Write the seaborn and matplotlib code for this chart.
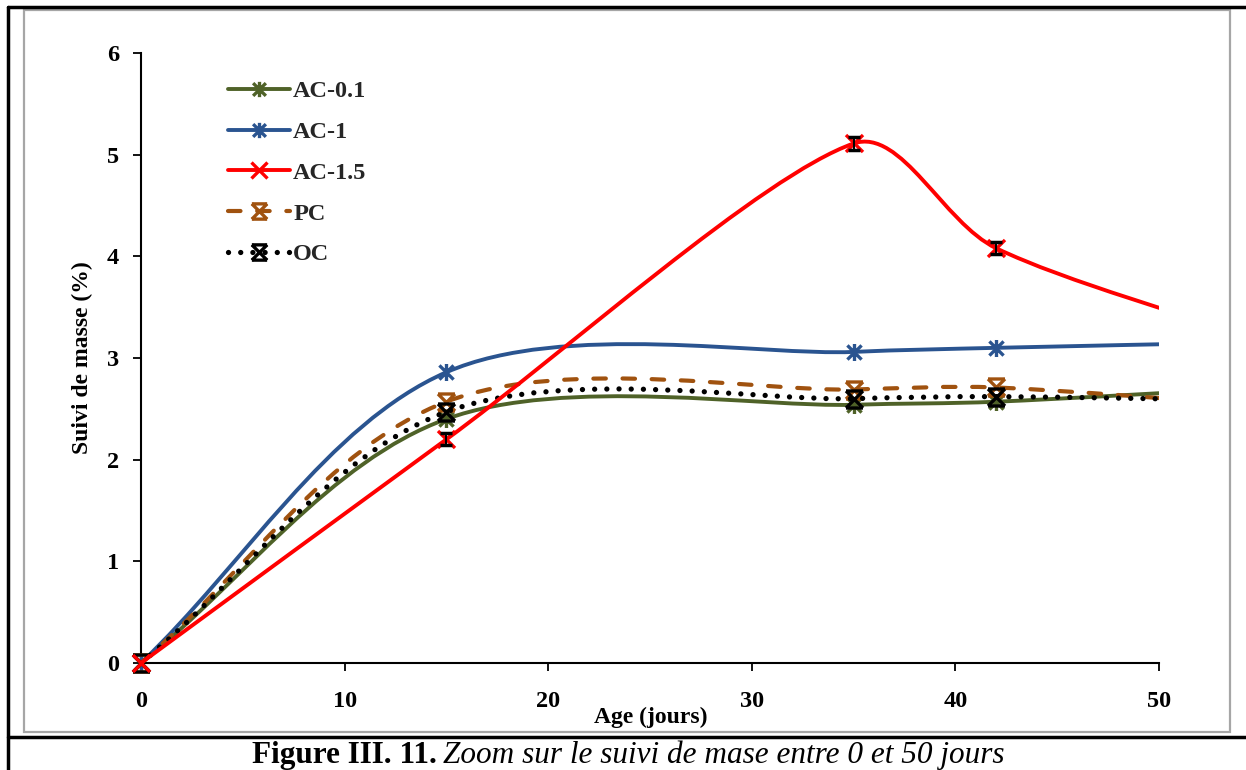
import numpy as np
import pandas as pd
import matplotlib
matplotlib.use("Agg")
import matplotlib.pyplot as plt
import seaborn as sns
from matplotlib.path import Path
from matplotlib.patches import PathPatch, Rectangle
from matplotlib.lines import Line2D

# data (last point lies beyond the zoomed window)
age = [0, 15, 35, 42, 56]
ac_01 = [0, 2.40, 2.54, 2.57, 2.72]
ac_1 = [0, 2.86, 3.06, 3.10, 3.16]
ac_15 = [0, 2.20, 5.11, 4.08, 3.10]
pc = [0, 2.57, 2.69, 2.71, 2.52]
oc = [0, 2.47, 2.60, 2.62, 2.58]
ac_15_err = [0, 0.06, 0.06, 0.06, 0.06]

names = ["AC-0.1", "AC-1", "AC-1.5", "PC", "OC"]
values = [ac_01, ac_1, ac_15, pc, oc]

# Excel-like markers: star (x plus vertical bar) and hourglass (x with caps)
star = Path([(-1, -1), (1, 1), (-1, 1), (1, -1), (0, -1.2), (0, 1.2)],
            [Path.MOVETO, Path.LINETO] * 3)
hourglass = Path([(-1, -1), (1, 1), (-1, 1), (1, -1), (-1, 1), (1, 1), (-1, -1), (1, -1)],
                 [Path.MOVETO, Path.LINETO] * 4)

styles = {
    "AC-0.1": dict(color="#4F6228", ls="-", lw=2.8, marker=star, z=2),
    "AC-1": dict(color="#2A5490", ls="-", lw=2.8, marker=star, z=3),
    "AC-1.5": dict(color="#FF0000", ls="-", lw=2.8, marker="x", z=6),
    "PC": dict(color="#A0520F", ls=(0, (3.0, 4.0)), lw=3.0, marker=hourglass, z=4),
    "OC": dict(color="black", ls=(0, (0.01, 2.3)), lw=3.8, marker=hourglass, z=5),
}

sns.set_theme(style="ticks")
plt.rcParams['font.family'] = ['Liberation Serif', 'DejaVu Serif']
plt.rcParams['font.weight'] = 'bold'

fig = plt.figure(figsize=(12.46, 7.70), dpi=100)
ax = fig.add_axes([141 / 1246, 107 / 770, 1018 / 1246, 610 / 770])
ax.set_xlim(0, 50)
ax.set_ylim(0, 6)


def smooth_path(xs, ys):
    # Excel-like smoothed line: cubic Bezier through the points, built in display space
    pts = ax.transData.transform(np.column_stack([xs, ys]))
    n = len(pts)
    seg = np.linalg.norm(np.diff(pts, axis=0), axis=1)

    def handle(i, k):
        # control offset at point i for segment of length seg[k]
        if i == 0:
            return (pts[1] - pts[0]) / 3
        if i == n - 1:
            return (pts[-1] - pts[-2]) / 3
        d = pts[i + 1] - pts[i - 1]
        return d * min(1 / 6, seg[k] / (3 * (seg[i - 1] + seg[i])))

    verts = [pts[0]]
    codes = [Path.MOVETO]
    for i in range(n - 1):
        verts += [pts[i] + handle(i, i), pts[i + 1] - handle(i + 1, i), pts[i + 1]]
        codes += [Path.CURVE4] * 3
    verts = ax.transData.inverted().transform(np.array(verts))
    return Path(verts, codes)


df = pd.DataFrame({"age": age * len(names),
                   "value": sum(values, []),
                   "serie": np.repeat(names, len(age))})

for name in names:
    st = styles[name]
    sub = df[df["serie"] == name]
    patch = PathPatch(smooth_path(sub["age"].values, sub["value"].values),
                      facecolor="none", edgecolor=st["color"], lw=st["lw"],
                      linestyle=st["ls"], capstyle="round", zorder=st["z"])
    ax.add_patch(patch)
    shown = sub[sub["age"] <= 50]
    sns.scatterplot(x=shown["age"], y=shown["value"], ax=ax, marker=st["marker"],
                    color=st["color"], edgecolor=st["color"], s=150, linewidth=2.4,
                    zorder=st["z"] + 0.5, clip_on=False, legend=False)

# error bars on AC-1.5
mask = [(a > 0) and (a <= 50) for a in age]
ax.errorbar([a for a, m in zip(age, mask) if m], [v for v, m in zip(ac_15, mask) if m],
            yerr=[e for e, m in zip(ac_15_err, mask) if m], fmt="none", ecolor="black",
            elinewidth=1.5, capsize=4, capthick=2.5, zorder=7)

ax.set_xticks([0, 10, 20, 30, 40, 50])
ax.set_yticks([0, 1, 2, 3, 4, 5, 6])
ax.tick_params(axis="both", direction="out", length=6, width=1.3, color="black",
               labelsize=17.5, labelcolor="black")
ax.tick_params(axis="x", pad=14)
ax.tick_params(axis="y", pad=10)
for lab in ax.get_xticklabels() + ax.get_yticklabels():
    lab.set_fontweight("bold")
sns.despine(ax=ax)
for sp in ["left", "bottom"]:
    ax.spines[sp].set_color("black")
    ax.spines[sp].set_linewidth(1.5)
ax.set_xlabel("Age (jours)", fontsize=17, fontweight="bold", color="black")
ax.set_ylabel("Suivi de masse (%)", fontsize=17, fontweight="bold", color="black")
ax.xaxis.set_label_coords(0.501, -0.072)
ax.yaxis.set_label_coords(-0.047, 0.5)

handles = []
for name in names:
    st = styles[name]
    handles.append(Line2D([], [], color=st["color"], lw=st["lw"], ls=st["ls"],
                          dash_capstyle="round", marker=st["marker"], markersize=11,
                          markeredgewidth=2.4, markerfacecolor=st["color"],
                          markeredgecolor=st["color"]))
ax.legend(handles, names, loc="upper left", bbox_to_anchor=(0.085, 0.955), frameon=False,
          prop={"size": 17.5, "weight": "bold"}, handlelength=2.55, handletextpad=0.15,
          labelspacing=0.77, borderaxespad=0, borderpad=0)

# page frame and chart-area border
fig.add_artist(Rectangle((24 / 1246, 1 - 732 / 770), 1206 / 1246, 722 / 770,
                         transform=fig.transFigure, fill=False, edgecolor="#A6A6A6", lw=1.6))
fig.add_artist(Line2D([8 / 1246, 1], [1 - 7 / 770, 1 - 7 / 770], transform=fig.transFigure,
                      color="black", lw=2.5))
fig.add_artist(Line2D([8 / 1246, 8 / 1246], [0, 1 - 7 / 770], transform=fig.transFigure,
                      color="black", lw=2.5))
fig.add_artist(Line2D([8 / 1246, 1], [1 - 737 / 770, 1 - 737 / 770], transform=fig.transFigure,
                      color="black", lw=2.5))

fig.text(437 / 1246, 1 - 755 / 770, "Figure III. 11.", ha="right", va="center",
         fontsize=22.5, fontweight="bold", color="black")
fig.text(443 / 1246, 1 - 755 / 770, "Zoom sur le suivi de mase entre 0 et 50 jours",
         ha="left", va="center", fontsize=22.5, fontweight="normal", fontstyle="italic",
         color="black")

fig.savefig("out.png", dpi=100)
